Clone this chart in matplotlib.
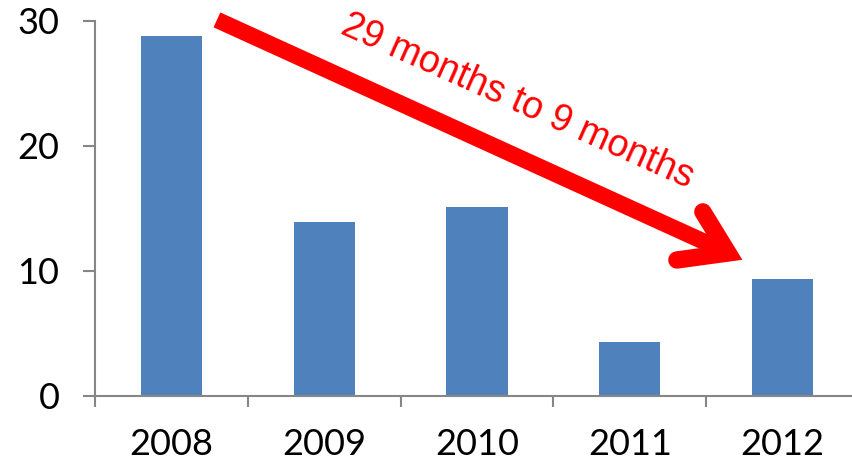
import matplotlib
matplotlib.use("Agg")
import matplotlib.pyplot as plt
import numpy as np

years = ["2008", "2009", "2010", "2011", "2012"]
months = [28.8, 13.9, 15.1, 4.3, 9.3]
y_ticks = [0, 10, 20, 30]

bar_color = "#4F81BD"
axis_color = "#868686"
red = "#FF0000"

W, H, DPI = 853, 459, 100
fig = plt.figure(figsize=(W / DPI, H / DPI), dpi=DPI)
ax = fig.add_axes([95 / W, (H - 395.7) / H, (859 - 95) / W, (395.7 - 20.5) / H])

x = np.arange(len(years))
ax.bar(x, months, width=0.4, color=bar_color, zorder=2)

ax.set_xlim(-0.5, len(years) - 0.5)
ax.set_ylim(0, 30)
ax.set_yticks(y_ticks)
ax.set_yticklabels([str(t) for t in y_ticks])
ax.set_xticks(x)
ax.set_xticklabels(years)
ax.set_xticks(np.arange(len(years) + 1) - 0.5, minor=True)

for side in ("top", "right"):
    ax.spines[side].set_visible(False)
for side in ("left", "bottom"):
    ax.spines[side].set_color(axis_color)
    ax.spines[side].set_linewidth(1.5)

ax.tick_params(axis="y", which="major", length=8.6, width=1.5, color=axis_color,
               direction="out", pad=17, labelsize=26)
ax.tick_params(axis="x", which="major", length=0, pad=23, labelsize=26)
ax.tick_params(axis="x", which="minor", length=8, width=1.5, color=axis_color,
               direction="out")
for lbl in ax.get_xticklabels() + ax.get_yticklabels():
    lbl.set_fontfamily("Lato")

# Trend arrow: shaft plus a two-armed head with rounded arm ends
shaft_start = (0.298, 30.05)
head_vertex = (3.643, 11.41)
ax.plot([shaft_start[0], head_vertex[0] - 0.04], [shaft_start[1], head_vertex[1] + 0.25],
        color=red, lw=11.8, solid_capstyle="butt", clip_on=False, zorder=3)
arm_a = (3.478, 14.7)
arm_b = (3.308, 10.85)
ax.plot([arm_a[0], head_vertex[0], arm_b[0]], [arm_a[1], head_vertex[1], arm_b[1]],
        color=red, lw=12.5, solid_capstyle="round", solid_joinstyle="miter",
        clip_on=False, zorder=3)

ax.text(2.262, 23.5, "29 months to 9 months", color=red, fontsize=27,
        family="Liberation Sans", rotation=-24, rotation_mode="anchor",
        ha="center", va="center", zorder=4)

fig.savefig("out.png", dpi=DPI)
